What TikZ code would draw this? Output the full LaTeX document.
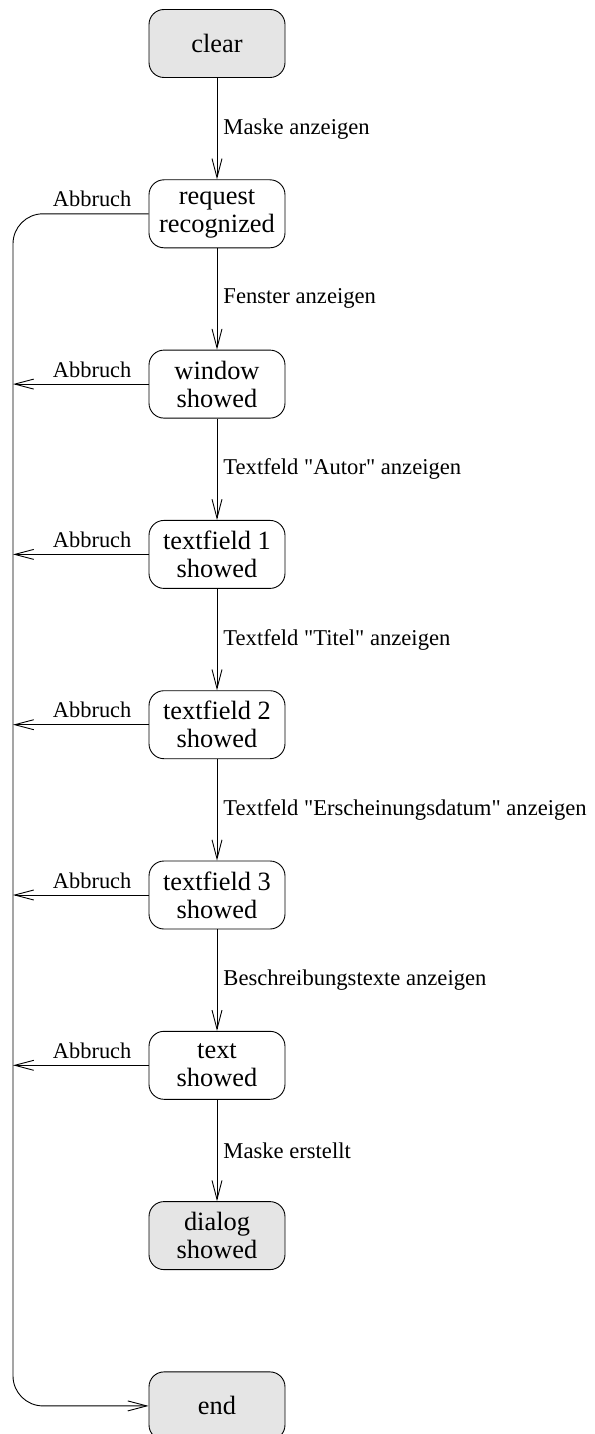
\documentclass[tikz,border=0pt]{standalone}
\usepackage{fontspec}
\setmainfont{Liberation Serif}
\usetikzlibrary{arrows.meta}
\definecolor{boxgray}{HTML}{E5E5E5}
\newcommand\strq{{\XeTeXglyph\XeTeXcharglyph34\relax}}
\tikzset{
  state/.style={draw, line width=0.9pt, rounded corners=15pt, minimum width=136pt, minimum height=68pt,
    inner sep=0pt, align=center, font=\fontsize{26.4}{28}\selectfont},
  termstate/.style={state, fill=boxgray},
  flow/.style={line width=0.9pt, -{Straight Barb[length=19pt,width=10pt,line width=0.9pt]}},
  elabel/.style={anchor=west, inner sep=0pt, xshift=6pt, font=\fontsize{22.6}{24}\selectfont},
  alabel/.style={anchor=base east, inner sep=0pt, font=\fontsize{22.4}{24}\selectfont}
}
\begin{document}
\begin{tikzpicture}[x=1pt,y=-1pt]
\useasboundingbox (0,0) rectangle (594,1434);
\node[termstate] (clear) at (217,43.5) {clear};
\node[state] (req) at (217,213.8) {request\\recognized};
\node[state] (win) at (217,384.1) {window\\showed};
\node[state] (tf1) at (217,554.4) {textfield 1\\showed};
\node[state] (tf2) at (217,724.7) {textfield 2\\showed};
\node[state] (tf3) at (217,895) {textfield 3\\showed};
\node[state] (txt) at (217,1065.3) {text\\showed};
\node[termstate] (dlg) at (217,1235.6) {dialog\\showed};
\node[termstate] (end) at (217,1405.9) {end};
\coordinate (L) at (13,0);

\draw[flow] (clear) -- node[elabel] {Maske anzeigen} (req);
\draw[flow] (req) -- node[elabel] {Fenster anzeigen} (win);
\draw[flow] (win) -- node[elabel] {Textfeld \strq Autor\strq{} anzeigen} (tf1);
\draw[flow] (tf1) -- node[elabel] {Textfeld \strq Titel\strq{} anzeigen} (tf2);
\draw[flow] (tf2) -- node[elabel] {Textfeld \strq Erscheinungsdatum\strq{} anzeigen} (tf3);
\draw[flow] (tf3) -- node[elabel] {Beschreibungstexte anzeigen} (txt);
\draw[flow] (txt) -- node[elabel] {Maske erstellt} (dlg);

\draw[flow, rounded corners=30pt] (req.west) -| (L |- end.west) -- (end.west);
\node[alabel] (a0) at ([xshift=-17pt,yshift=7pt]req.west) {Abbruch};
\foreach \n/\k in {win/1, tf1/2, tf2/3, tf3/4, txt/5} {
  \draw[flow] (\n.west) -- (L |- \n.west);
  \node[alabel] (a\k) at ([xshift=-17pt,yshift=7pt]\n.west) {Abbruch};
}
\end{tikzpicture}
\end{document}
